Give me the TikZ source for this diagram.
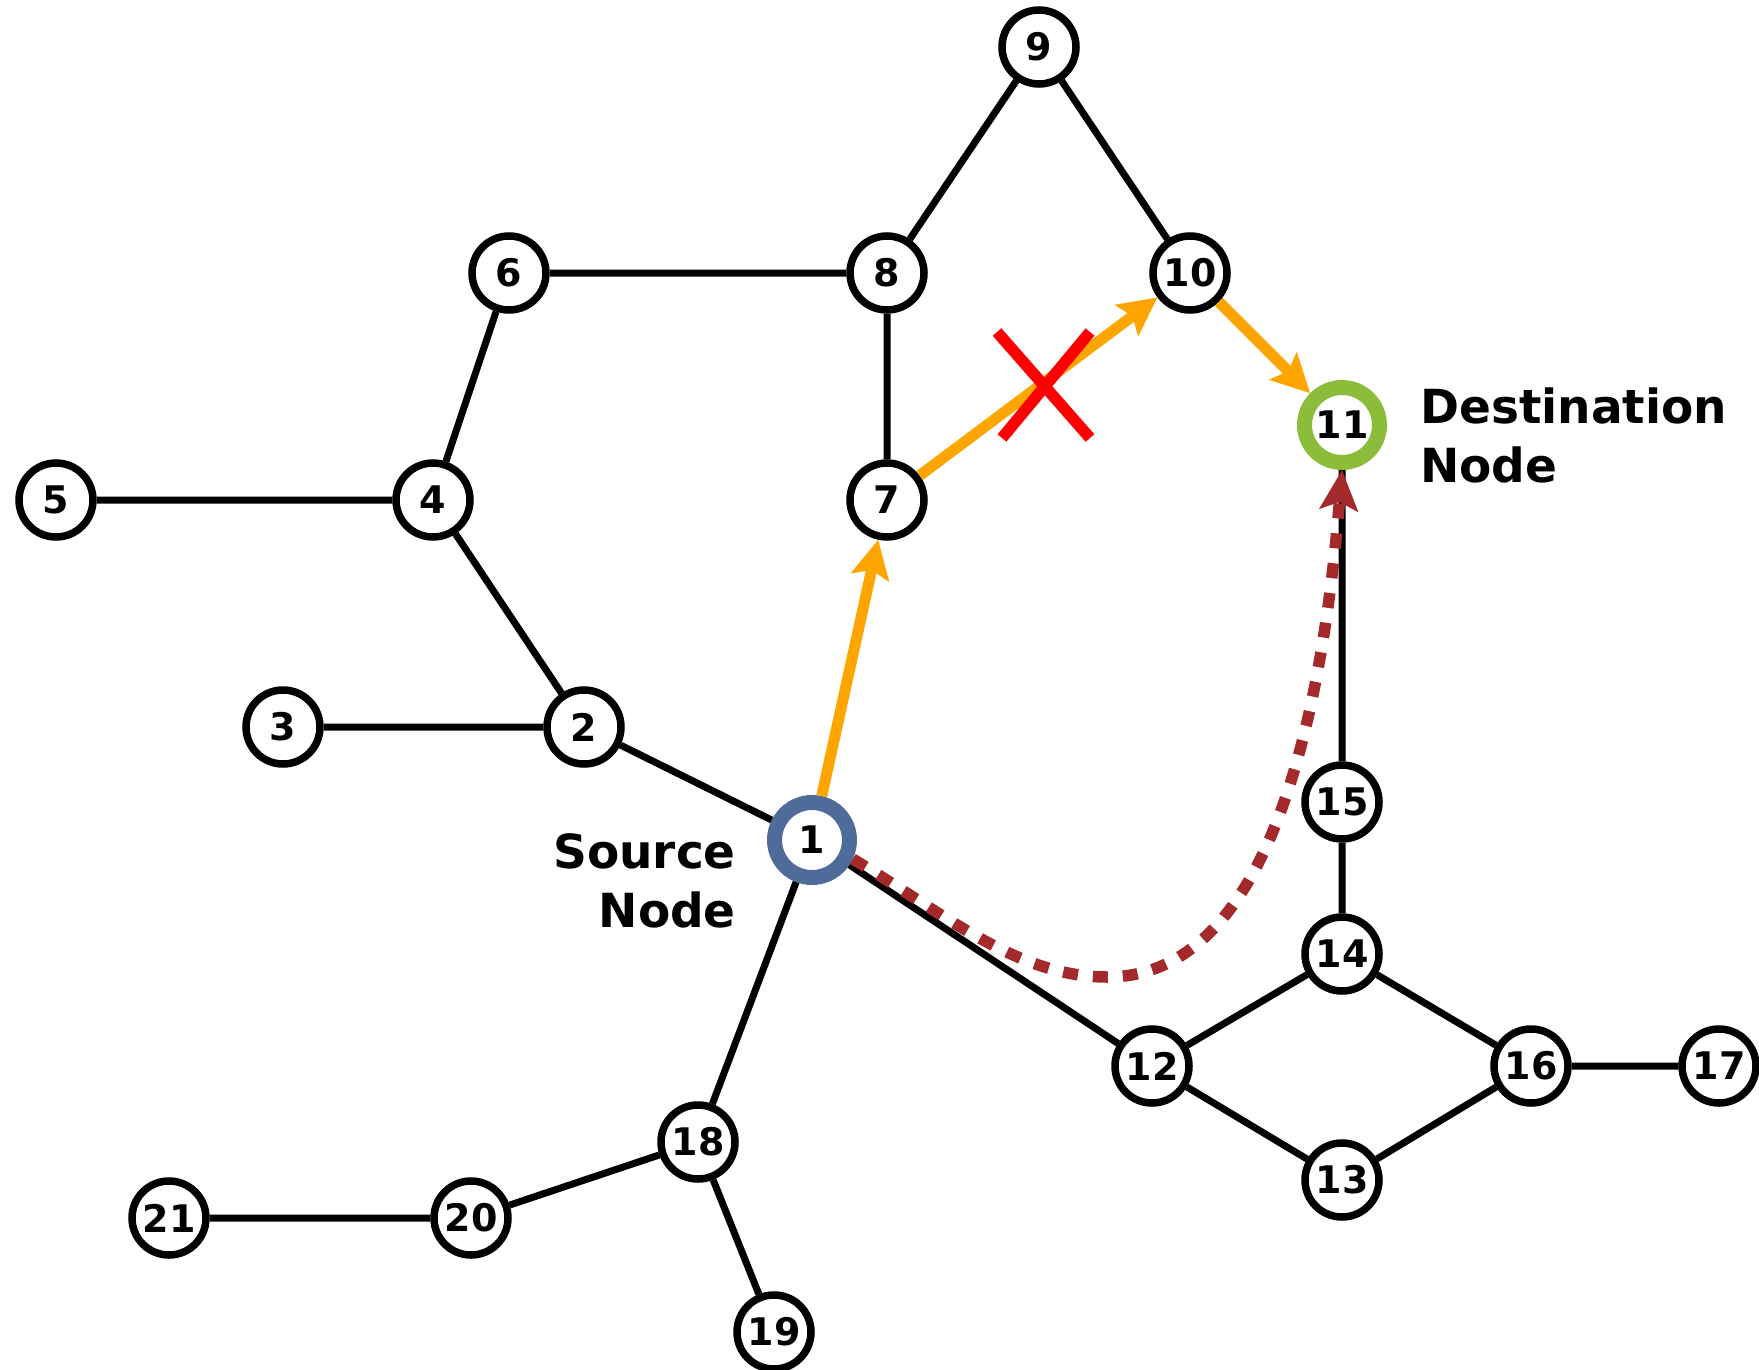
\documentclass[tikz,border=0pt]{standalone}
\usepackage{fontspec}
\setmainfont{DejaVu Sans}
\usetikzlibrary{arrows.meta}
\definecolor{ringblue}{HTML}{4E6B9A}
\definecolor{ringgreen}{HTML}{8BBD3B}
\definecolor{pathorange}{HTML}{FFA500}
\definecolor{pathred}{HTML}{A3292B}
\definecolor{crossred}{HTML}{FF0000}
\tikzset{
  nd/.style={circle, draw=black, fill=white, line width=7.5pt, minimum size=74pt, inner sep=0pt,
     font=\fontsize{38}{44}\selectfont\bfseries},
  ring/.style={nd, line width=15pt, minimum size=75pt},
  edge/.style={draw=black, line width=7pt},
  orangepath/.style={draw=pathorange, line width=11pt, -{Stealth[length=38pt, width=38pt, inset=7pt]}},
  redpath/.style={draw=pathred, line width=11.5pt, dash pattern=on 15pt off 15pt, -{Stealth[length=40pt, width=38pt, inset=8pt]}},
  crossmark/.style={draw=crossred, line width=11.5pt},
  lbl/.style={inner sep=0pt, font=\fontsize{47}{59}\selectfont\bfseries}
}
\begin{document}
\begin{tikzpicture}[x=1pt, y=-1pt]
\useasboundingbox (0,0) rectangle (1759,1370);
\node[ring, draw=ringblue] (n1) at (812,840) {1};
\node[nd] (n2) at (584,727) {2};
\node[nd] (n3) at (283,727) {3};
\node[nd] (n4) at (433,500) {4};
\node[nd] (n5) at (56,500) {5};
\node[nd] (n6) at (509,273) {6};
\node[nd] (n7) at (887,500) {7};
\node[nd] (n8) at (887,273) {8};
\node[nd] (n9) at (1039,47) {9};
\node[nd] (n10) at (1190,273) {10};
\node[ring, draw=ringgreen] (n11) at (1342,425) {11};
\node[nd] (n12) at (1152,1066) {12};
\node[nd] (n13) at (1342,1180) {13};
\node[nd] (n14) at (1342,954) {14};
\node[nd] (n15) at (1342,802) {15};
\node[nd] (n16) at (1531,1066) {16};
\node[nd] (n17) at (1719,1066) {17};
\node[nd] (n18) at (698,1142) {18};
\node[nd] (n19) at (774,1332) {19};
\node[nd] (n20) at (471,1218) {20};
\node[nd] (n21) at (169,1218) {21};

\node[lbl, anchor=base east, align=right] (src) at (736,927) {Source\\Node};
\node[lbl, anchor=base west, align=left] (dst) at (1420,482) {Destination\\Node};

\path[edge] (n1) -- (n2) (n2) -- (n3) (n2) -- (n4) (n4) -- (n5) (n4) -- (n6)
  (n6) -- (n8) (n8) -- (n7) (n8) -- (n9) (n9) -- (n10)
  (n1) -- (n12) (n1) -- (n18) (n18) -- (n20) (n20) -- (n21) (n18) -- (n19)
  (n12) -- (n14) (n12) -- (n13) (n14) -- (n16) (n13) -- (n16) (n16) -- (n17)
  (n14) -- (n15) (n15) -- (n11);

\draw[orangepath] (n1) -- (n7);
\draw[orangepath] (n7) -- (n10);
\draw[orangepath] (n10) -- (n11);

\coordinate (low) at (1107,977);
\draw[redpath] (n1.-25) .. controls (943,913) and (1017,977) .. (low)
   .. controls (1262,977) and (1320,740) .. (n11.south);

\draw[crossmark] (997,332) -- (1090,438) (1090,332) -- (1002,438);
\end{tikzpicture}
\end{document}
